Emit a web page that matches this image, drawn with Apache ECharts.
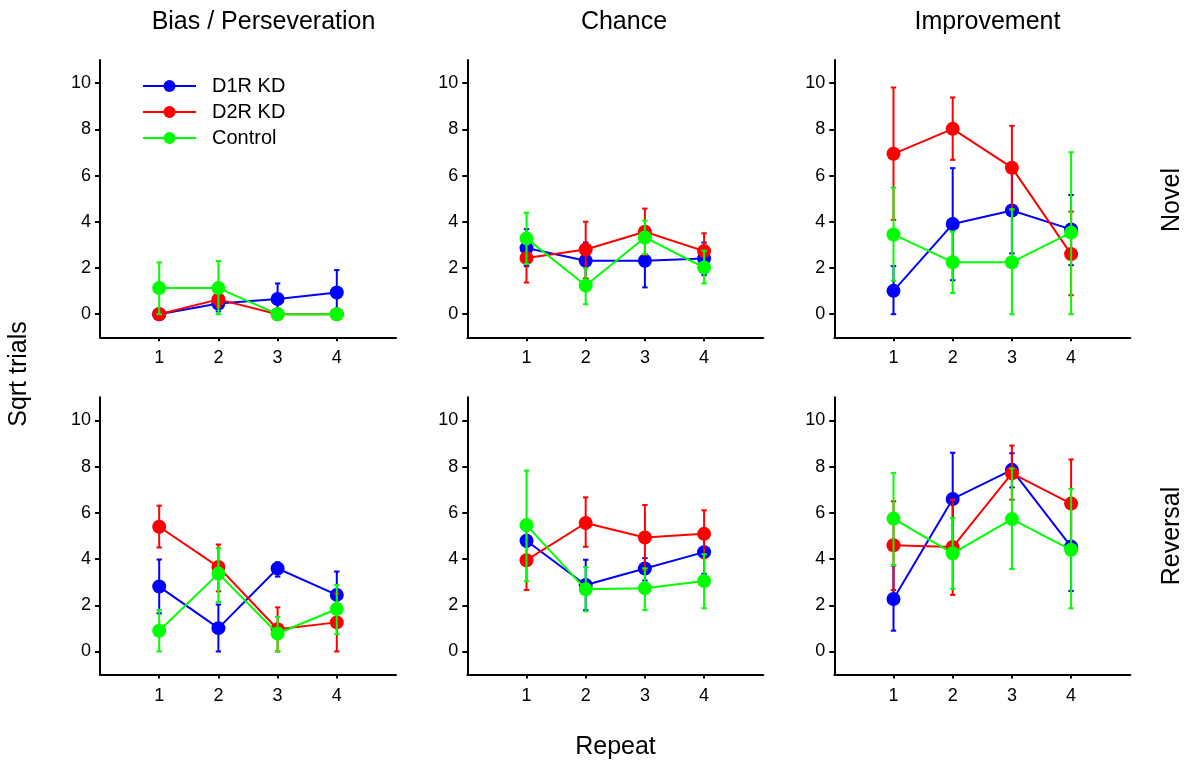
<!DOCTYPE html>
<html>
<head>
<meta charset="utf-8">
<title>Sqrt trials by repeat</title>
<script src="https://cdn.jsdelivr.net/npm/echarts@6/dist/echarts.min.js"></script>
<style>
  html, body { margin: 0; padding: 0; background: #fff; }
  #chart { width: 1199px; height: 766px; }
</style>
</head>
<body>
<div id="chart"></div>
<script>
// Panels, row by row: Novel row first, then Reversal row.
const columnTitles = ['Bias / Perseveration', 'Chance', 'Improvement'];
const rowTitles = ['Novel', 'Reversal'];
const repeats = [1, 2, 3, 4];
const yTicks = [0, 2, 4, 6, 8, 10];
const groupNames = ['D1R KD', 'D2R KD', 'Control'];
const groupColors = ['#0000ff', '#ff0000', '#00ff00'];

// Means, lower and upper error bounds; one row of four repeats per panel
// (Bias-Novel, Chance-Novel, Improvement-Novel, Bias-Reversal, Chance-Reversal, Improvement-Reversal).
const d1rMean = [
  [0, 0.46, 0.66, 0.94],
  [2.86, 2.31, 2.31, 2.41],
  [1.01, 3.9, 4.49, 3.67],
  [2.81, 1.01, 3.59, 2.45],
  [4.79, 2.88, 3.59, 4.3],
  [2.27, 6.6, 7.86, 4.54]
];
const d1rLow = [
  [0, 0.12, 0, 0],
  [2.08, 1.52, 1.16, 1.69],
  [0, 1.47, 2.63, 2.12],
  [1.65, 0, 3.24, 1.43],
  [4.54, 1.79, 3.07, 3.36],
  [0.9, 4.6, 7.1, 2.62]
];
const d1rHigh = [
  [0, 0.8, 1.33, 1.91],
  [3.68, 3.1, 3.46, 3.1],
  [2.08, 6.32, 6.35, 5.16],
  [3.98, 2.03, 3.86, 3.46],
  [5.04, 3.97, 4.04, 5.24],
  [3.72, 8.6, 8.58, 6.46]
];

const d2rMean = [
  [0, 0.64, 0, 0],
  [2.43, 2.8, 3.57, 2.73],
  [6.94, 8.02, 6.34, 2.6],
  [5.4, 3.66, 0.96, 1.26],
  [3.95, 5.56, 4.93, 5.09],
  [4.6, 4.52, 7.71, 6.4]
];
const d2rLow = [
  [0, 0.3, 0, 0],
  [1.37, 1.55, 2.57, 1.96],
  [4.08, 6.68, 4.5, 0.82],
  [4.5, 2.6, 0, 0],
  [2.66, 4.53, 3.53, 4.04],
  [2.66, 2.45, 6.57, 4.47]
];
const d2rHigh = [
  [0, 0.98, 0, 0],
  [3.49, 4.0, 4.57, 3.5],
  [9.81, 9.38, 8.15, 4.44],
  [6.31, 4.63, 1.91, 2.5],
  [5.24, 6.67, 6.34, 6.11],
  [6.5, 6.57, 8.91, 8.31]
];

const ctrlMean = [
  [1.13, 1.13, 0, 0],
  [3.28, 1.24, 3.32, 2.02],
  [3.45, 2.25, 2.25, 3.53],
  [0.9, 3.37, 0.78, 1.84],
  [5.47, 2.69, 2.74, 3.05],
  [5.75, 4.25, 5.73, 4.4]
];
const ctrlLow = [
  [0, 0, 0, 0],
  [2.18, 0.43, 2.6, 1.33],
  [1.45, 0.92, 0, 0],
  [0, 2.14, 0, 0.75],
  [3.04, 1.74, 1.79, 1.87],
  [3.73, 2.71, 3.57, 1.87]
];
const ctrlHigh = [
  [2.24, 2.3, 0, 0],
  [4.39, 1.98, 4.05, 2.75],
  [5.48, 3.57, 4.54, 7.01],
  [1.79, 4.47, 1.5, 2.88],
  [7.83, 3.65, 3.6, 4.21],
  [7.73, 5.77, 7.92, 7.03]
];

const groupMeans = [d1rMean, d2rMean, ctrlMean];
const groupLows = [d1rLow, d2rLow, ctrlLow];
const groupHighs = [d1rHigh, d2rHigh, ctrlHigh];

const FONT = '"Liberation Sans", Arial, Helvetica, sans-serif';

// Panel geometry
const panelLefts = [100, 467.3, 834.3];
const panelTops = [60, 397.3];
const panelWidth = 296;
const panelHeight = 277.3;

const grids = [], xAxes = [], yAxes = [], series = [];

function errorBarRenderer(color) {
  return function (params, api) {
    const x = api.value(0);
    const pLo = api.coord([x, api.value(1)]);
    const pHi = api.coord([x, api.value(2)]);
    const w = 2.7;
    const style = { stroke: color, lineWidth: 2 };
    return {
      type: 'group',
      children: [
        { type: 'line', shape: { x1: pLo[0], y1: pLo[1], x2: pHi[0], y2: pHi[1] }, style: style },
        { type: 'line', shape: { x1: pLo[0] - w, y1: pLo[1], x2: pLo[0] + w, y2: pLo[1] }, style: style },
        { type: 'line', shape: { x1: pHi[0] - w, y1: pHi[1], x2: pHi[0] + w, y2: pHi[1] }, style: style }
      ]
    };
  };
}

for (let p = 0; p < 6; p++) {
  const row = Math.floor(p / 3), col = p % 3;
  grids.push({
    left: panelLefts[col], top: panelTops[row],
    width: panelWidth, height: panelHeight,
    containLabel: false
  });
  xAxes.push({
    gridIndex: p, type: 'value', min: 0, max: 5,
    axisLine: { show: true, onZero: false, lineStyle: { color: '#000', width: 2 } },
    axisTick: { show: true, length: 4, lineStyle: { color: '#000', width: 2 }, customValues: repeats },
    axisLabel: { color: '#000', fontSize: 18, fontFamily: FONT, margin: 12, customValues: repeats },
    splitLine: { show: false }
  });
  yAxes.push({
    gridIndex: p, type: 'value', min: -1, max: 11,
    axisLine: { show: true, onZero: false, lineStyle: { color: '#000', width: 2 } },
    axisTick: { show: true, length: 5, lineStyle: { color: '#000', width: 2 }, customValues: yTicks },
    axisLabel: { color: '#000', fontSize: 18, fontFamily: FONT, margin: 9, customValues: yTicks },
    splitLine: { show: false }
  });

  for (let g = 0; g < 3; g++) {
    const mean = groupMeans[g][p], lo = groupLows[g][p], hi = groupHighs[g][p];
    series.push({
      type: 'custom',
      name: groupNames[g] + ' error',
      xAxisIndex: p, yAxisIndex: p,
      z: 2 + g * 2,
      silent: true,
      renderItem: errorBarRenderer(groupColors[g]),
      encode: { x: 0, y: [1, 2] },
      data: repeats.map((r, i) => [r, lo[i], hi[i]])
    });
    series.push({
      type: 'line',
      name: groupNames[g],
      xAxisIndex: p, yAxisIndex: p,
      z: 3 + g * 2,
      symbol: 'circle',
      symbolSize: 14,
      showSymbol: true,
      lineStyle: { color: groupColors[g], width: 2 },
      itemStyle: { color: groupColors[g] },
      data: repeats.map((r, i) => [r, mean[i]])
    });
  }
}

const titleCenters = [263.5, 624, 987.5];
const graphics = [];
columnTitles.forEach((t, i) => {
  graphics.push({
    type: 'text', x: titleCenters[i], y: 22,
    style: { text: t, fontSize: 25, fontFamily: FONT, fill: '#000', textAlign: 'center', textVerticalAlign: 'middle' }
  });
});
const rowCenters = [200, 536];
rowTitles.forEach((t, i) => {
  graphics.push({
    type: 'text', x: 1172, y: rowCenters[i], rotation: Math.PI / 2,
    style: { text: t, fontSize: 25, fontFamily: FONT, fill: '#000', textAlign: 'center', textVerticalAlign: 'middle' }
  });
});
graphics.push({
  type: 'text', x: 19, y: 374, rotation: Math.PI / 2,
  style: { text: 'Sqrt trials', fontSize: 25, fontFamily: FONT, fill: '#000', textAlign: 'center', textVerticalAlign: 'middle' }
});
graphics.push({
  type: 'text', x: 615.5, y: 747,
  style: { text: 'Repeat', fontSize: 25, fontFamily: FONT, fill: '#000', textAlign: 'center', textVerticalAlign: 'middle' }
});

const chart = echarts.init(document.getElementById('chart'), null, { renderer: 'canvas' });
chart.setOption({
  animation: false,
  backgroundColor: '#fff',
  grid: grids,
  xAxis: xAxes,
  yAxis: yAxes,
  legend: {
    data: groupNames,
    orient: 'vertical',
    left: 142, top: 76,
    padding: 0,
    itemWidth: 53, itemHeight: 15,
    itemGap: 6,
    textStyle: { fontSize: 20, fontFamily: FONT, color: '#000', padding: [0, 0, 0, 11] }
  },
  graphic: graphics,
  series: series
});
</script>
</body>
</html>
